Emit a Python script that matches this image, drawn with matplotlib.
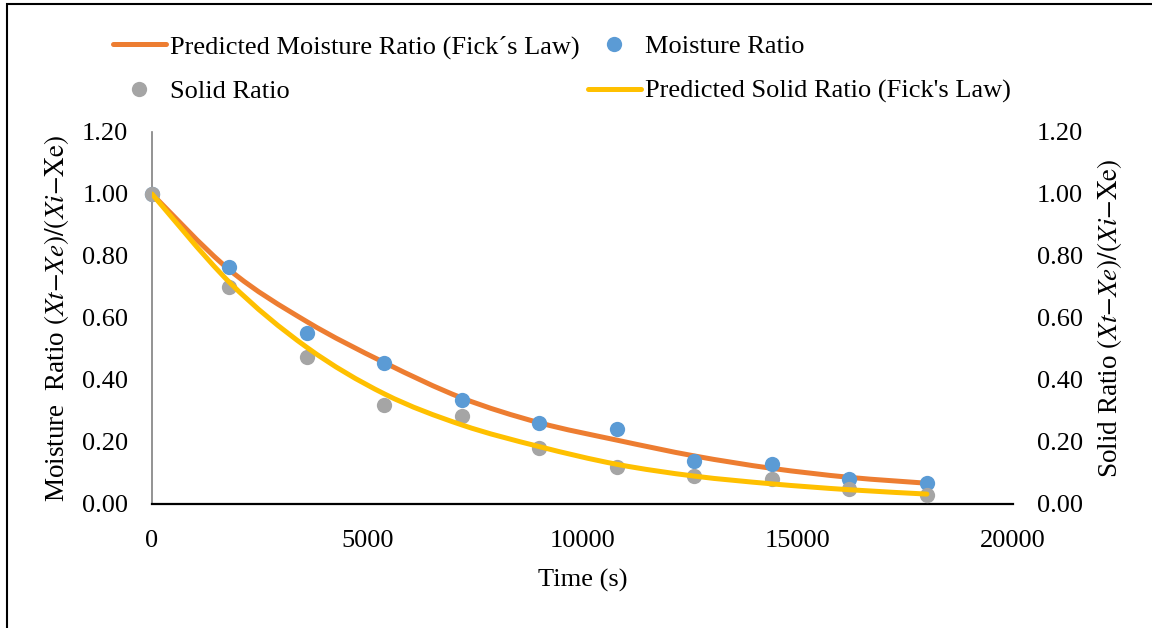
import numpy as np
import matplotlib.pyplot as plt
from matplotlib.path import Path
from matplotlib.patches import PathPatch, Rectangle
from matplotlib.lines import Line2D
from matplotlib.ticker import FormatStrFormatter

plt.rcParams['font.family'] = ['Liberation Serif', 'DejaVu Serif']
plt.rcParams['mathtext.fontset'] = 'stix'
plt.rcParams['font.size'] = 19

# drying time (s) and measured / predicted ratios
time_s = [0, 1800, 3600, 5400, 7200, 9000, 10800, 12600, 14400, 16200, 18000]
moisture_ratio = [1.00, 0.764, 0.553, 0.454, 0.335, 0.262, 0.242, 0.139, 0.130, 0.081, 0.069]
solid_ratio = [1.00, 0.701, 0.475, 0.320, 0.284, 0.182, 0.118, 0.091, 0.082, 0.048, 0.029]
pred_moisture = [1.00, 0.755, 0.588, 0.456, 0.342, 0.262, 0.206, 0.155, 0.115, 0.086, 0.067]
pred_solid = [1.00, 0.715, 0.505, 0.355, 0.255, 0.185, 0.128, 0.090, 0.065, 0.046, 0.032]

x_ticks = [0, 5000, 10000, 15000, 20000]
y_ticks = [0.0, 0.2, 0.4, 0.6, 0.8, 1.0, 1.2]

ORANGE = '#ED7D31'
BLUE = '#5B9BD5'
GRAY = '#A5A5A5'
YELLOW = '#FFC000'
LW = 3.6
MS = 11


def smooth_path(x, y):
    # Catmull-Rom style bezier through the points (like a smoothed line)
    pts = np.column_stack([x, y]).astype(float)
    n = len(pts)
    verts = [pts[0]]
    codes = [Path.MOVETO]
    for i in range(n - 1):
        p0 = pts[max(i - 1, 0)]
        p1 = pts[i]
        p2 = pts[i + 1]
        p3 = pts[min(i + 2, n - 1)]
        verts += [p1 + (p2 - p0) / 6, p2 - (p3 - p1) / 6, p2]
        codes += [Path.CURVE4] * 3
    return Path(verts, codes)


fig = plt.figure(figsize=(11.52, 6.28), dpi=100)
ax = fig.add_axes([152 / 1152, 1 - 504 / 628, 861 / 1152, 372 / 628])
ax2 = ax.twinx()

ax.add_patch(PathPatch(smooth_path(time_s, pred_moisture), fill=False,
                       edgecolor=ORANGE, lw=LW, capstyle='round', zorder=2))
ax.plot(time_s, moisture_ratio, 'o', color=BLUE, ms=MS, mec='none',
        clip_on=False, zorder=3)
ax2.plot(time_s, solid_ratio, 'o', color=GRAY, ms=MS, mec='none',
         clip_on=False, zorder=2)
ax2.add_patch(PathPatch(smooth_path(time_s, pred_solid), fill=False,
                        edgecolor=YELLOW, lw=LW, capstyle='round', zorder=3))

for a in (ax, ax2):
    a.set_xlim(0, 20000)
    a.set_ylim(0, 1.2)
    a.set_yticks(y_ticks)
    a.yaxis.set_major_formatter(FormatStrFormatter('%.2f'))
    a.tick_params(length=0)
    for s in a.spines.values():
        s.set_visible(False)

ax.set_xticks(x_ticks)
ax.tick_params(axis='x', pad=19)
ax.tick_params(axis='y', pad=17)
ax2.tick_params(axis='y', pad=17)
ax.spines['left'].set_visible(True)
ax.spines['left'].set_color('#808080')
ax.spines['left'].set_linewidth(1.2)
ax.spines['bottom'].set_visible(True)
ax.spines['bottom'].set_color('black')
ax.spines['bottom'].set_linewidth(1.6)

ax.set_xlabel('Time (s)', labelpad=12)
ax.set_ylabel(r'Moisture  Ratio $(Xt{-}Xe)/(Xi{-}\mathrm{Xe})$', labelpad=8,
              fontsize=19.5)
ax2.set_ylabel(r'Solid Ratio $(Xt{-}Xe)/(Xi{-}\mathrm{Xe})$', labelpad=9,
               fontsize=19.5)

handles = [
    Line2D([], [], color=ORANGE, lw=LW, solid_capstyle='round'),
    Line2D([], [], ls='none', marker='o', color=GRAY, ms=MS, mec='none'),
    Line2D([], [], ls='none', marker='o', color=BLUE, ms=MS, mec='none'),
    Line2D([], [], color=YELLOW, lw=LW, solid_capstyle='round'),
]
labels = [
    'Predicted Moisture Ratio (Fick\u00b4s Law)',
    'Solid Ratio',
    'Moisture Ratio',
    "Predicted Solid Ratio (Fick's Law)",
]
fig.legend(handles, labels, ncol=2, loc='upper left',
           bbox_to_anchor=(113 / 1152, 1 - 35 / 628), frameon=False,
           borderpad=0, borderaxespad=0, handlelength=2.0,
           handletextpad=0.17, columnspacing=0.3, labelspacing=0.8)

# outer chart border
fig.add_artist(Rectangle((7 / 1152, -0.1), 1.2, 1.1 - 4 / 628,
                         transform=fig.transFigure, fill=False,
                         edgecolor='black', lw=1.5))

fig.savefig('out.png', dpi=100)
